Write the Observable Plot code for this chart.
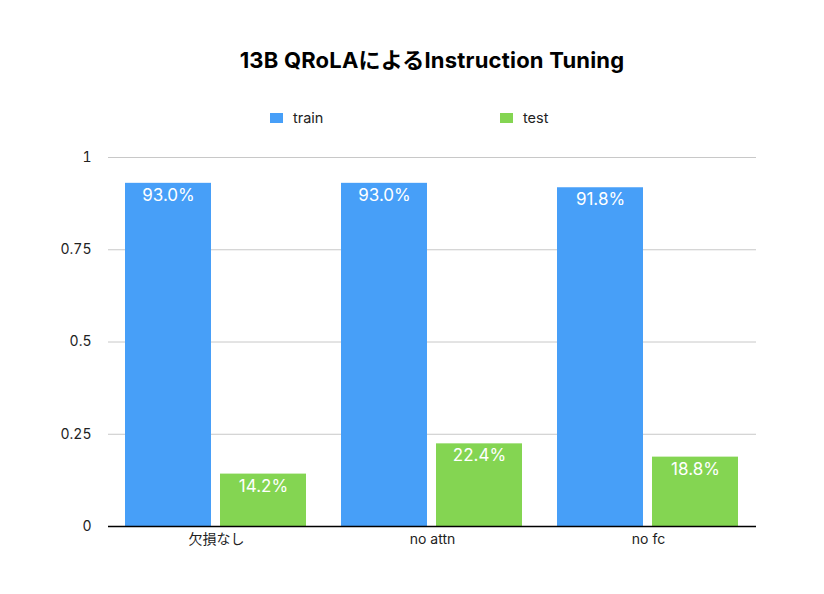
<!DOCTYPE html>
<html><head><meta charset="utf-8">
<script src="https://cdn.jsdelivr.net/npm/d3@7"></script>
<script src="https://cdn.jsdelivr.net/npm/@observablehq/plot@0.6"></script>
<style>
body{margin:0;background:#fff;font-family:Inter,"Noto Sans CJK JP",sans-serif;}
#wrap{position:relative;width:824px;height:594px;overflow:hidden;}
#title{position:absolute;top:45px;left:20px;width:824px;text-align:center;font-weight:bold;font-size:22px;letter-spacing:0.2px;line-height:30px;color:#000;}
.leg{position:absolute;top:108px;font-size:14.5px;line-height:20px;display:flex;align-items:center;color:#222;}
.sw{width:13px;height:10px;margin-right:10px;}
#chart{position:absolute;top:140px;left:0;}
</style></head>
<body>
<div id="wrap">
  <div id="title">13B QRoLAによるInstruction Tuning</div>
  <div id="legend"></div>
  <div id="chart"></div>
</div>
<script>
const categories = ["欠損なし", "no attn", "no fc"];
const series = ["train", "test"];
const trainValues = [0.930, 0.930, 0.918];
const testValues = [0.142, 0.224, 0.188];
const yTicks = [0, 0.25, 0.5, 0.75, 1];
const yTickLabels = ["0", "0.25", "0.5", "0.75", "1"];
const colors = ["#479ff8", "#84d552"];

const rows = categories.flatMap((c, i) => [
  {category: c, series: "train", value: trainValues[i]},
  {category: c, series: "test", value: testValues[i]}
]);

// legend
const legendX = [270, 500];
const legend = document.getElementById("legend");
series.forEach((s, i) => {
  const d = document.createElement("div");
  d.className = "leg";
  d.style.left = legendX[i] + "px";
  d.innerHTML = `<span class="sw" style="background:${colors[i]}"></span><span>${s}</span>`;
  legend.appendChild(d);
});

const chart = Plot.plot({
  width: 824,
  height: 454,
  marginTop: 17,
  marginBottom: 68,
  marginLeft: 107,
  marginRight: 67,
  style: {fontFamily: 'Inter,"Noto Sans CJK JP",sans-serif', fontSize: "14px", color: "#222", background: "#fff"},
  fx: {domain: categories, padding: 0, label: null, axis: "bottom", tickSize: 0, tickPadding: 8},
  x: {domain: series, paddingInner: 0.094, paddingOuter: 0.176, axis: null},
  y: {domain: [0, 1], ticks: yTicks, tickFormat: d => yTickLabels[yTicks.indexOf(d)], tickSize: 0, tickPadding: 17, label: null},
  color: {domain: series, range: colors},
  marks: [
    Plot.gridY(yTicks, {stroke: "#c8c8c8", strokeOpacity: 1}),
    Plot.barY(rows, {fx: "category", x: "series", y: "value", fill: "series"}),
    Plot.text(rows, {fx: "category", x: "series", y: "value", text: d => (d.value * 100).toFixed(1) + "%", dy: 12, fill: "white", fontSize: 17}),
    Plot.ruleY([0], {stroke: "#000", strokeWidth: 1.5})
  ]
});
document.getElementById("chart").appendChild(chart);
</script>
</body></html>
